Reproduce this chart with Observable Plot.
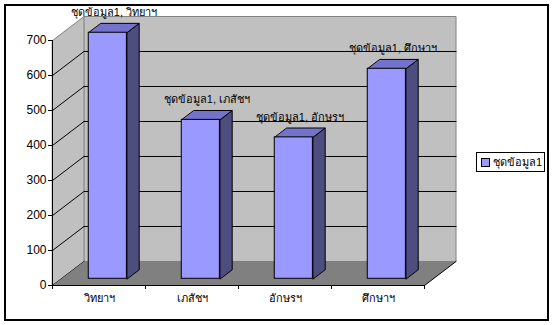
<!DOCTYPE html>
<html>
<head>
<meta charset="utf-8">
<script src="https://cdn.jsdelivr.net/npm/d3@7"></script>
<script src="https://cdn.jsdelivr.net/npm/@observablehq/plot@0.6"></script>
<style>
  html, body { margin: 0; padding: 0; background: #fff; }
  #wrap { position: relative; width: 554px; height: 325px; font-family: Tahoma, "Liberation Sans", Arial, sans-serif; font-size: 11px; }
  #border { position: absolute; left: 4px; top: 4px; width: 545px; height: 317px; box-sizing: border-box; border: 2px solid #000; pointer-events: none; }
  #chart { position: absolute; left: 0; top: 0; }
  #legend { position: absolute; left: 476px; top: 152px; width: 69px; height: 20px; box-sizing: border-box; border: 1px solid #000; background: #fff; display: flex; align-items: center; padding-left: 4px; gap: 3px; white-space: nowrap; color: #000; }
  #legend .sw { width: 7px; height: 7px; background: #9999FF; border: 1px solid #000; flex: none; }
</style>
</head>
<body>
<div id="wrap">
  <div id="chart"></div>
  <div id="border"></div>
  <div id="legend"></div>
</div>
<script>
// ---- data ----
const categories = ["วิทยาฯ", "เภสัชฯ", "อักษรฯ", "ศึกษาฯ"];
const values = [703, 454, 404, 600];
const seriesName = "ชุดข้อมูล1";
const yTicks = [0, 100, 200, 300, 400, 500, 600, 700];

// ---- oblique 3D projection expressed in data units ----
const YMAX = 700;
const NCAT = categories.length;
const DX = 0.339;   // depth shift in category units
const DY = 68.6;    // depth shift in value units
const D0 = 0.28, D1 = 0.67; // bar depth span
const HALF = 0.205;         // half bar width in category units
const P = (x, v, d) => ({x: x + d * DX, y: v + d * DY});

const polys = (list) => list.flatMap((pts, k) => pts.map(p => ({...p, id: k})));

const backWall = polys([[P(0,0,1), P(NCAT,0,1), P(NCAT,YMAX,1), P(0,YMAX,1)]]);
const sideWall = polys([[P(0,0,0), P(0,0,1), P(0,YMAX,1), P(0,YMAX,0)]]);
const floor = polys([[P(0,0,0), P(NCAT,0,0), P(NCAT,0,1), P(0,0,1)]]);
const floorEdge = polys([[P(NCAT,0,0), P(NCAT,0,1)]]);
const backGrid = polys(yTicks.filter(v => v > 0 && v < YMAX).map(v => [P(0,v,1), P(NCAT,v,1)]));
const sideGrid = polys(yTicks.filter(v => v < YMAX).map(v => [P(0,v,0), P(0,v,1)]));

const barFront = values.map((v, i) => {
  const a = P(i + 0.5 - HALF, 0, D0), b = P(i + 0.5 + HALF, v, D0);
  return {x1: a.x, x2: b.x, y1: a.y, y2: b.y};
});
const barTop = polys(values.map((v, i) => {
  const l = i + 0.5 - HALF, r = i + 0.5 + HALF;
  return [P(l,v,D0), P(r,v,D0), P(r,v,D1), P(l,v,D1)];
}));
const barSide = polys(values.map((v, i) => {
  const r = i + 0.5 + HALF;
  return [P(r,0,D0), P(r,v,D0), P(r,v,D1), P(r,0,D1)];
}));

const closed = {x: "x", y: "y", z: "id", curve: "linear-closed"};
const open = {x: "x", y: "y", z: "id"};

const chart = Plot.plot({
  width: 554,
  height: 325,
  marginLeft: 52,
  marginRight: 130,
  marginTop: 40,
  marginBottom: 40,
  style: {fontFamily: 'Tahoma, "Liberation Sans", Arial, sans-serif', fontSize: "12px", color: "#000", background: "transparent", overflow: "visible"},
  x: {domain: [0, NCAT], axis: null},
  y: {domain: [0, YMAX], axis: null},
  marks: [
    Plot.line(backWall, {...closed, fill: "#C0C0C0", stroke: "#808080", strokeWidth: 1}),
    Plot.line(sideWall, {...closed, fill: "#C0C0C0", stroke: "#808080", strokeWidth: 1}),
    Plot.line(backGrid, {...open, stroke: "#000", strokeWidth: 1}),
    Plot.line(sideGrid, {...open, stroke: "#000", strokeWidth: 1}),
    Plot.line(floor, {...closed, fill: "#808080", stroke: "none"}),
    Plot.line(floorEdge, {...open, stroke: "#000", strokeWidth: 1}),
    Plot.line(barSide, {...closed, fill: "#4D4D80", stroke: "#000", strokeWidth: 1}),
    Plot.line(barTop, {...closed, fill: "#7373CC", stroke: "#000", strokeWidth: 1}),
    Plot.rect(barFront, {x1: "x1", x2: "x2", y1: "y1", y2: "y2", fill: "#9999FF", stroke: "#000", strokeWidth: 1}),
    Plot.ruleX([0], {y1: 0, y2: YMAX, stroke: "#000"}),
    Plot.ruleY([0], {x1: 0, x2: NCAT, stroke: "#000"}),
    Plot.axisY({ticks: yTicks, tickSize: 4, tickPadding: 2, tickFormat: d => String(d), fontSize: 12, stroke: "#000", fill: "#000"}),
    Plot.axisX({ticks: d3.range(NCAT + 1), tickSize: 4, tickFormat: () => "", stroke: "#000"}),
    Plot.text(categories, {x: (d, i) => i + 0.5, y: 0, dy: 13, text: d => d, fill: "#000", fontSize: 11}),
    Plot.text(values, {
      x: (d, i) => i + 0.5 + ((D0 + D1) / 2) * DX,
      y: d => d + D1 * DY,
      dy: -11,
      text: (d, i) => `${seriesName}, ${categories[i]}`,
      fill: "#000",
      fontSize: 11
    })
  ]
});
document.getElementById("chart").appendChild(chart);

const lg = document.getElementById("legend");
const sw = document.createElement("span"); sw.className = "sw";
const tx = document.createElement("span"); tx.textContent = seriesName;
lg.appendChild(sw); lg.appendChild(tx);
</script>
</body>
</html>
